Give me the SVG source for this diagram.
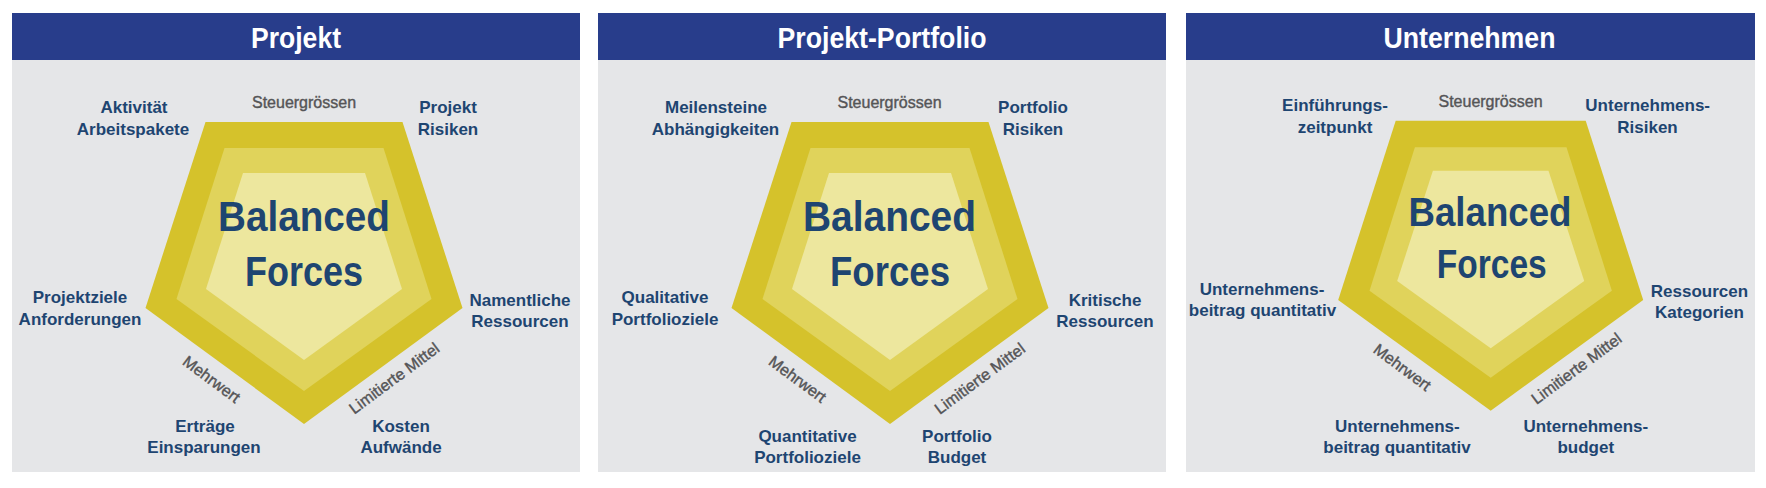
<svg xmlns="http://www.w3.org/2000/svg" width="1766" height="488" viewBox="0 0 1766 488">
<style>
.bg{fill:#E5E6E8}
.hd{fill:#283D8B}
.o{fill:#D5C22B}
.m{fill:#E0D35B}
.i{fill:#EDE79E}
.t{font-family:"Liberation Sans",Arial,sans-serif;font-weight:bold;font-size:29px;fill:#FFFFFF;text-anchor:middle}
.big{font-family:"Liberation Sans",Arial,sans-serif;font-weight:bold;font-size:43px;fill:#1E4571;text-anchor:middle}
.lb{font-family:"Liberation Sans",Arial,sans-serif;font-weight:bold;font-size:17px;fill:#1E4571;text-anchor:middle}
.g{font-family:"Liberation Sans",Arial,sans-serif;font-size:16px;fill:#555557;stroke:#555557;stroke-width:0.4;text-anchor:middle}
</style>
<rect width="1766" height="488" fill="#FFFFFF"/>

<g id="panel-projekt">
<rect class="bg" x="12" y="60" width="568" height="412"/>
<rect class="hd" x="12" y="13" width="568" height="47"/>
<text class="t" x="296" y="47.7" textLength="90" lengthAdjust="spacingAndGlyphs">Projekt</text>
<polygon class="o" points="205.5,122 402.5,122 462.5,308 304,424 145.5,308"/>
<polygon class="m" points="224.5,148 383.5,148 431.5,299 304,391 176.5,299"/>
<polygon class="i" points="243,173 365,173 402,289 304,360 206,289"/>
<text class="big" x="304" y="231" textLength="172" lengthAdjust="spacingAndGlyphs">Balanced</text>
<text class="big" x="304" y="286" textLength="118" lengthAdjust="spacingAndGlyphs">Forces</text>
<text class="g" x="304" y="108">Steuergrössen</text>
<text class="g" transform="translate(208.3,383.7) rotate(36.5)" x="0" y="0">Mehrwert</text>
<text class="g" transform="translate(397.4,382.7) rotate(-36.5)" x="0" y="0">Limitierte Mittel</text>
<text class="lb" x="134" y="113">Aktivität</text>
<text class="lb" x="133" y="135">Arbeitspakete</text>
<text class="lb" x="448" y="112.5">Projekt</text>
<text class="lb" x="448" y="135">Risiken</text>
<text class="lb" x="80" y="303">Projektziele</text>
<text class="lb" x="80" y="324.5">Anforderungen</text>
<text class="lb" x="520" y="306">Namentliche</text>
<text class="lb" x="520" y="327">Ressourcen</text>
<text class="lb" x="205" y="432">Erträge</text>
<text class="lb" x="204" y="453">Einsparungen</text>
<text class="lb" x="401" y="432">Kosten</text>
<text class="lb" x="401" y="453">Aufwände</text>
</g>

<g id="panel-portfolio">
<rect class="bg" x="598" y="60" width="568" height="412"/>
<rect class="hd" x="598" y="13" width="568" height="47"/>
<text class="t" x="882" y="47.7" textLength="209" lengthAdjust="spacingAndGlyphs">Projekt-Portfolio</text>
<polygon class="o" points="791.5,122 988.5,122 1048.5,308 890,424 731.5,308"/>
<polygon class="m" points="810.5,148 969.5,148 1017.5,299 890,391 762.5,299"/>
<polygon class="i" points="829,173 951,173 988,289 890,360 792,289"/>
<text class="big" x="889.5" y="231" textLength="173" lengthAdjust="spacingAndGlyphs">Balanced</text>
<text class="big" x="890" y="286" textLength="120" lengthAdjust="spacingAndGlyphs">Forces</text>
<text class="g" x="889.5" y="108">Steuergrössen</text>
<text class="g" transform="translate(794.4,383.6) rotate(36.5)" x="0" y="0">Mehrwert</text>
<text class="g" transform="translate(983,383) rotate(-36.5)" x="0" y="0">Limitierte Mittel</text>
<text class="lb" x="716" y="113">Meilensteine</text>
<text class="lb" x="715.5" y="135">Abhängigkeiten</text>
<text class="lb" x="1033" y="112.5">Portfolio</text>
<text class="lb" x="1033" y="135">Risiken</text>
<text class="lb" x="665" y="303">Qualitative</text>
<text class="lb" x="665" y="324.5">Portfolioziele</text>
<text class="lb" x="1105" y="306">Kritische</text>
<text class="lb" x="1105" y="327">Ressourcen</text>
<text class="lb" x="807.5" y="441.5">Quantitative</text>
<text class="lb" x="807.5" y="463">Portfolioziele</text>
<text class="lb" x="957" y="441.5">Portfolio</text>
<text class="lb" x="957" y="463">Budget</text>
</g>

<g id="panel-unternehmen">
<rect class="bg" x="1186" y="60" width="569" height="412"/>
<rect class="hd" x="1186" y="13" width="569" height="47"/>
<text class="t" x="1469.5" y="47.7" textLength="172" lengthAdjust="spacingAndGlyphs">Unternehmen</text>
<polygon class="o" points="1395.7,120.7 1585.7,120.7 1643.2,300 1490.7,410.7 1338.2,300"/>
<polygon class="m" points="1414.9,147.3 1566.5,147.3 1611.9,290.7 1490.7,377.7 1369.5,290.7"/>
<polygon class="i" points="1432.9,170.7 1548.5,170.7 1584.2,281 1490.7,348.3 1397.2,281"/>
<text class="big" x="1490" y="225.7" style="font-size:40.5px" textLength="163" lengthAdjust="spacingAndGlyphs">Balanced</text>
<text class="big" x="1491.7" y="277.5" style="font-size:40.5px" textLength="110" lengthAdjust="spacingAndGlyphs">Forces</text>
<text class="g" x="1490.5" y="107">Steuergrössen</text>
<text class="g" transform="translate(1399.1,371.7) rotate(36.5)" x="0" y="0">Mehrwert</text>
<text class="g" transform="translate(1579.7,373) rotate(-36.5)" x="0" y="0">Limitierte Mittel</text>
<text class="lb" x="1335" y="111">Einführungs-</text>
<text class="lb" x="1335" y="132.5">zeitpunkt</text>
<text class="lb" x="1647.7" y="111">Unternehmens-</text>
<text class="lb" x="1647.5" y="132.5">Risiken</text>
<text class="lb" x="1262" y="295">Unternehmens-</text>
<text class="lb" x="1262.5" y="316">beitrag quantitativ</text>
<text class="lb" x="1699.5" y="297">Ressourcen</text>
<text class="lb" x="1699.5" y="317.5">Kategorien</text>
<text class="lb" x="1397.4" y="432">Unternehmens-</text>
<text class="lb" x="1397" y="452.5">beitrag quantitativ</text>
<text class="lb" x="1585.8" y="432">Unternehmens-</text>
<text class="lb" x="1585.8" y="452.5">budget</text>
</g>
</svg>
